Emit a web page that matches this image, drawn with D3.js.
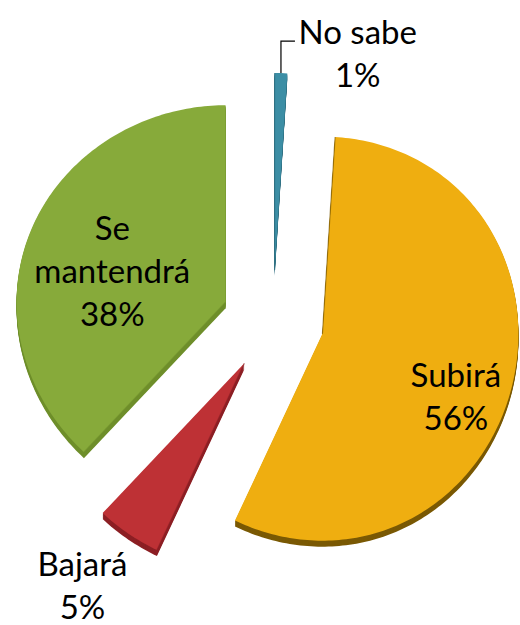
<!DOCTYPE html>
<html lang="es">
<head>
<meta charset="UTF-8">
<title>Expectativa</title>
<script src="https://d3js.org/d3.v7.min.js"></script>
<style>
    body { margin: 0; background: #fff; }
    svg { display: block; }
    .lbl { font-family: 'Lato', 'Open Sans', sans-serif; font-size: 33px; fill: #000; }
</style>
</head>
<body>
<script>
    const categories = ["No sabe", "Subirá", "Bajará", "Se mantendrá"];
    const values = [1, 56, 5, 38];
    const percentLabels = ["1%", "56%", "5%", "38%"];
    const colors = ["#3C8EA5", "#EFAE10", "#BE3135", "#87AA3A"];
    const sideColors = ["#2B6A7C", "#7A5904", "#8C1F24", "#6E8E2A"];

    const width = 520, height = 625;
    const cx = 273, cy = 321;
    const explode = 51;
    const depth = 6;

    // slightly perspective pie: narrower at the top / right
    const rx = a => 202.5 - 6.5 * Math.sin(a);
    const ry = a => 202 - 5 * Math.cos(a);

    const svg = d3.select("body").append("svg")
        .attr("width", width)
        .attr("height", height);

    const pie = d3.pie().sort(null).value(d => d)(values);

    function offsetOf(d) {
        const mid = (d.startAngle + d.endAngle) / 2;
        return [explode * Math.sin(mid), -explode * Math.cos(mid)];
    }

    function project(d, a, r) {
        const [ox, oy] = offsetOf(d);
        return [cx + ox + r * rx(a) * Math.sin(a), cy + oy - r * ry(a) * Math.cos(a)];
    }

    function slicePoints(d) {
        const pts = [project(d, 0, 0)];
        const steps = Math.max(2, Math.ceil((d.endAngle - d.startAngle) / (Math.PI / 180)));
        for (let i = 0; i <= steps; i++) {
            const a = d.startAngle + (d.endAngle - d.startAngle) * i / steps;
            pts.push(project(d, a, 1));
        }
        return pts;
    }

    const line = d3.line().curve(d3.curveLinearClosed);

    // draw back slices first so front sides overlap correctly
    const order = [0, 3, 1, 2];
    order.forEach(i => {
        const d = pie[i];
        const pts = slicePoints(d);
        const g = svg.append("g");
        for (let k = depth; k >= 1; k--) {
            g.append("path")
                .attr("d", line(pts.map(p => [p[0], p[1] + k])))
                .attr("fill", sideColors[i]);
        }
        g.append("path")
            .attr("d", line(pts))
            .attr("fill", colors[i]);
        // thin shaded edge on the left radial face
        const apex = pts[0], first = pts[1];
        g.append("line")
            .attr("x1", apex[0]).attr("y1", apex[1])
            .attr("x2", first[0]).attr("y2", first[1])
            .attr("stroke", sideColors[i])
            .attr("stroke-width", 1.2)
            .attr("opacity", 0.6);
    });

    // label placement (angle in degrees, radius as share of the pie radius)
    const labelAngle = [20.7, 114.3, 216, 286.1];
    const labelRadius = [1.175, 0.745, 1.335, 0.565];
    const lineHeight = 43;

    pie.forEach((d, i) => {
        const a = labelAngle[i] * Math.PI / 180;
        const [lx, ly] = project(d, a, labelRadius[i]);
        const words = categories[i] === "Se mantendrá" ? ["Se", "mantendrá"] : [categories[i]];
        const lines = words.concat([percentLabels[i]]);
        const t = svg.append("text")
            .attr("class", "lbl")
            .attr("text-anchor", "middle");
        lines.forEach((s, j) => {
            t.append("tspan")
                .attr("x", lx)
                .attr("y", ly + (j - (lines.length - 1) / 2) * lineHeight + 12)
                .text(s);
        });
    });

    // leader line for the tiny slice
    const tiny = pie[0];
    const mid = (tiny.startAngle + tiny.endAngle) / 2;
    const [tx, ty] = project(tiny, mid, 1);
    svg.append("path")
        .attr("d", `M${tx},${ty} V${ty - 32} H${tx + 14}`)
        .attr("fill", "none")
        .attr("stroke", "#000")
        .attr("stroke-width", 1.2);
</script>
</body>
</html>
